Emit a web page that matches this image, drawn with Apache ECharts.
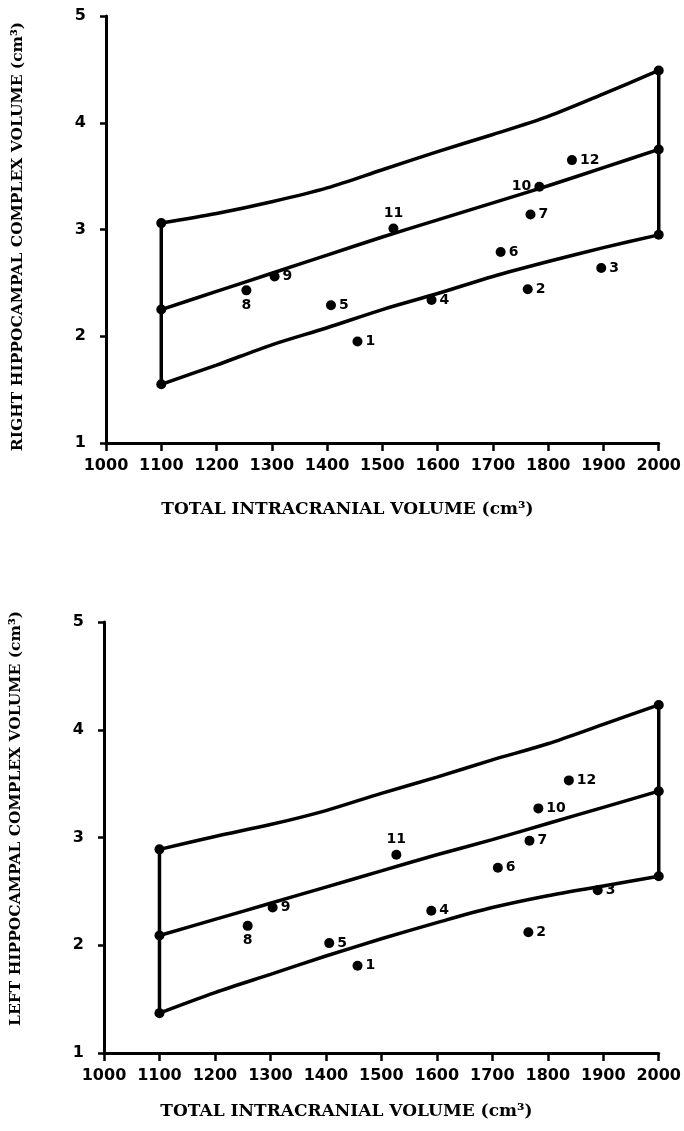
<!DOCTYPE html>
<html>
<head>
<meta charset="utf-8">
<script src="https://cdn.jsdelivr.net/npm/echarts@6/dist/echarts.min.js"></script>
<style>
  html, body { margin: 0; padding: 0; background: #fff; }
  #main { width: 684px; height: 1131px; }
</style>
</head>
<body>
<div id="main"></div>
<script>
// 带状区域的横坐标 (cm3)
const bandX = [1100, 1200, 1300, 1400, 1500, 1600, 1700, 1800, 1900, 2000];

// 右侧海马体积 - 上/中/下曲线
const rUpper = [3.06, 3.15, 3.26, 3.39, 3.56, 3.73, 3.89, 4.06, 4.27, 4.49];
const rMid   = [2.25, 2.42, 2.59, 2.76, 2.93, 3.09, 3.25, 3.41, 3.58, 3.75];
const rLower = [1.55, 1.73, 1.92, 2.08, 2.25, 2.40, 2.56, 2.70, 2.83, 2.95];

// 左侧海马体积 - 上/中/下曲线
const lUpper = [2.89, 3.01, 3.12, 3.25, 3.41, 3.56, 3.72, 3.87, 4.05, 4.23];
const lMid   = [2.09, 2.24, 2.39, 2.54, 2.69, 2.84, 2.98, 3.13, 3.28, 3.43];
const lLower = [1.37, 1.56, 1.73, 1.90, 2.06, 2.21, 2.35, 2.46, 2.55, 2.64];

// 受试者编号
const subjectIds = ['1', '2', '3', '4', '5', '6', '7', '8', '9', '10', '11', '12'];

// 右侧: 颅内总体积 / 海马体积
const rTIV = [1455, 1763, 1896, 1589, 1407, 1714, 1768, 1254, 1305, 1784, 1520, 1843];
const rHC  = [1.95, 2.44, 2.64, 2.34, 2.29, 2.79, 3.14, 2.43, 2.56, 3.40, 3.01, 3.65];

// 左侧: 颅内总体积 / 海马体积
const lTIV = [1457, 1765, 1890, 1590, 1406, 1710, 1767, 1259, 1304, 1783, 1527, 1838];
const lHC  = [1.81, 2.12, 2.51, 2.32, 2.02, 2.72, 2.97, 2.18, 2.35, 3.27, 2.84, 3.53];

// 标签位置 (样式)
const rLabelPos = ['right', 'right', 'right', 'right', 'right', 'right', 'right', 'bottom', 'right', 'left', 'top', 'right'];
const lLabelPos = ['right', 'right', 'right', 'right', 'right', 'right', 'right', 'bottom', 'right', 'right', 'top', 'right'];

const INK = '#000';
const tickFont = { color: INK, fontFamily: 'DejaVu Sans', fontWeight: 'bold', fontSize: 16 };
const titleFont = { color: INK, fontFamily: 'DejaVu Serif', fontWeight: 'bold' };

function xAxisOf (gridIndex, gap) {
  return {
    gridIndex,
    type: 'value',
    min: 1000, max: 2000, interval: 100,
    name: 'TOTAL INTRACRANIAL VOLUME (cm³)',
    nameLocation: 'middle',
    nameGap: gap,
    nameTextStyle: Object.assign({ fontSize: 17, padding: [0, 70, 0, 0] }, titleFont),
    axisLine: { lineStyle: { color: INK, width: 3 } },
    axisTick: { inside: false, length: 8, lineStyle: { color: INK, width: 2.5 } },
    axisLabel: Object.assign({ margin: 15, formatter: v => String(v) }, tickFont),
    splitLine: { show: false }
  }
}

function yAxisOf (gridIndex, name, pad) {
  return {
    gridIndex,
    type: 'value',
    min: 1, max: 5, interval: 1,
    name,
    nameLocation: 'middle',
    nameGap: 80,
    nameTextStyle: Object.assign({ fontSize: 15.5, padding: pad }, titleFont),
    axisLine: { lineStyle: { color: INK, width: 3 } },
    axisTick: { inside: false, length: 6, lineStyle: { color: INK, width: 2.5 } },
    axisLabel: Object.assign({ margin: 20 }, tickFont),
    splitLine: { show: false }
  }
}

function curve (idx, ys) {
  return {
    type: 'line',
    xAxisIndex: idx, yAxisIndex: idx,
    data: bandX.map((x, i) => [x, ys[i]]),
    smooth: 0.3,
    showSymbol: false,
    lineStyle: { color: INK, width: 3.5 },
    silent: true
  }
}

function edge (idx, xi, upper, mid, lower) {
  const x = bandX[xi];
  return {
    type: 'line',
    xAxisIndex: idx, yAxisIndex: idx,
    data: [[x, lower[xi]], [x, mid[xi]], [x, upper[xi]]],
    symbol: 'circle',
    symbolSize: 10,
    itemStyle: { color: INK },
    lineStyle: { color: INK, width: 3.5 },
    silent: true
  }
}

function points (idx, xs, ys, pos) {
  return {
    type: 'scatter',
    xAxisIndex: idx, yAxisIndex: idx,
    symbolSize: 10,
    itemStyle: { color: INK, opacity: 1 },
    data: xs.map((x, i) => ({
      value: [x, ys[i]],
      name: subjectIds[i],
      label: { position: pos[i] }
    })),
    label: {
      show: true,
      formatter: '{b}',
      distance: 3,
      color: INK,
      fontFamily: 'DejaVu Sans',
      fontWeight: 'bold',
      fontSize: 14
    }
  }
}

const option = {
  backgroundColor: '#fff',
  animation: false,
  grid: [
    { left: 106, top: 16, width: 555, height: 427 },
    { left: 103, top: 622, width: 557, height: 431 }
  ],
  xAxis: [xAxisOf(0, 58), xAxisOf(1, 50)],
  yAxis: [
    yAxisOf(0, 'RIGHT HIPPOCAMPAL COMPLEX VOLUME (cm³)', [0, 14, 0, 0]),
    yAxisOf(1, 'LEFT HIPPOCAMPAL COMPLEX VOLUME (cm³)', [0, 0, 0, 38])
  ],
  series: [
    curve(0, rUpper), curve(0, rMid), curve(0, rLower),
    edge(0, 0, rUpper, rMid, rLower), edge(0, bandX.length - 1, rUpper, rMid, rLower),
    points(0, rTIV, rHC, rLabelPos),
    curve(1, lUpper), curve(1, lMid), curve(1, lLower),
    edge(1, 0, lUpper, lMid, lLower), edge(1, bandX.length - 1, lUpper, lMid, lLower),
    points(1, lTIV, lHC, lLabelPos)
  ]
}

const chart = echarts.init(document.getElementById('main'));
chart.setOption(option, true);
</script>
</body>
</html>
